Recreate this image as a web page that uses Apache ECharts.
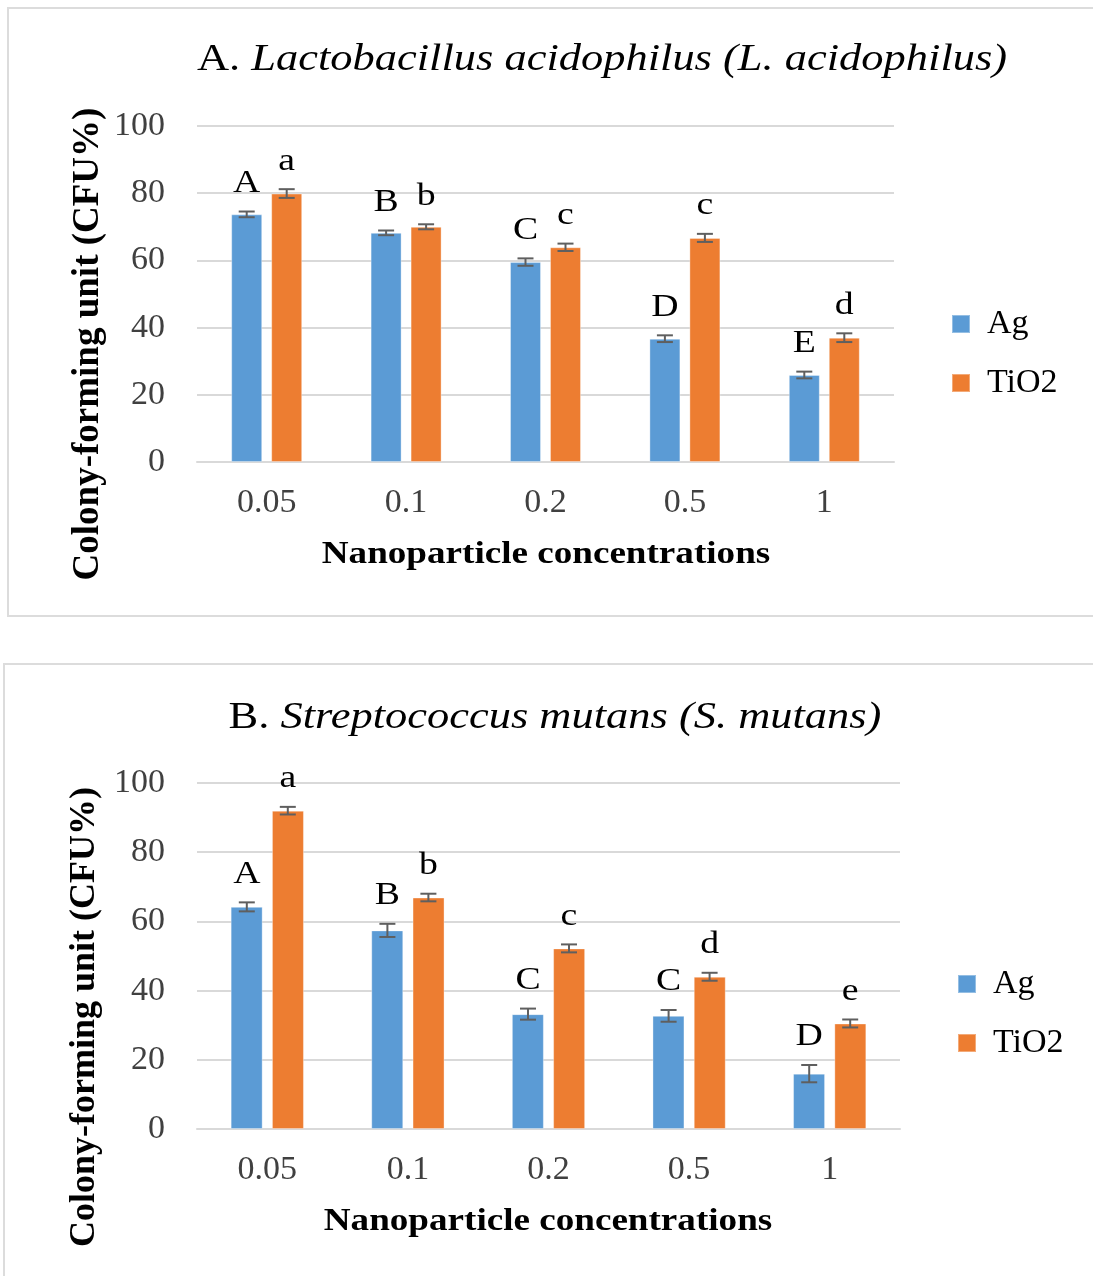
<!DOCTYPE html>
<html>
<head>
<meta charset="utf-8">
<script src="https://cdn.jsdelivr.net/npm/echarts@6/dist/echarts.min.js"></script>
<style>
  html, body { margin: 0; padding: 0; background: #fff; overflow: hidden; }
  #main { width: 1093px; height: 1276px; }
</style>
</head>
<body>
<div id="main"></div>
<script>
const categories = ['0.05', '0.1', '0.2', '0.5', '1']
const yTicks = [0, 20, 40, 60, 80, 100]

// panel A - L. acidophilus
const agA = [73.7, 68.2, 59.5, 36.7, 25.9]
const agAErr = [0.85, 0.7, 1.1, 1.0, 1.0]
const agALetters = ['A', 'B', 'C', 'D', 'E']
const tiA = [79.9, 70.0, 63.9, 66.7, 37.0]
const tiAErr = [1.3, 0.75, 1.1, 1.2, 1.3]
const tiALetters = ['a', 'b', 'c', 'c', 'd']

// panel B - S. mutans
const agB = [64.2, 57.4, 33.2, 32.7, 16.0]
const agBErr = [1.3, 1.9, 1.6, 1.7, 2.5]
const agBLetters = ['A', 'B', 'C', 'C', 'D']
const tiB = [92.0, 66.9, 52.2, 44.0, 30.5]
const tiBErr = [1.1, 1.1, 1.15, 1.15, 1.15]
const tiBLetters = ['a', 'b', 'c', 'd', 'e']

const SERIF = '"Liberation Serif", "Times New Roman", serif'
const BLUE = '#5B9BD5'
const ORANGE = '#ED7D31'
const GRID_COLOR = '#d9d9d9'

const chart = echarts.init(document.getElementById('main'))

// error bars + significance letters
function errSeries(idx, values, errs, letters, offset) {
  return {
    type: 'custom',
    xAxisIndex: idx,
    yAxisIndex: idx,
    silent: true,
    z: 5,
    data: values.map((v, i) => [i, v, errs[i]]),
    renderItem(params, api) {
      const i = api.value(0)
      const v = api.value(1)
      const e = api.value(2)
      const c = api.coord([i, v])
      const hi = api.coord([i, v + e])
      const lo = api.coord([i, v - e])
      const x = c[0] + offset
      const st = { stroke: '#5f5f5f', lineWidth: 2 }
      return {
        type: 'group',
        children: [
          { type: 'line', shape: { x1: x, y1: hi[1], x2: x, y2: lo[1] }, style: st },
          { type: 'line', shape: { x1: x - 8, y1: hi[1], x2: x + 8, y2: hi[1] }, style: st },
          { type: 'line', shape: { x1: x - 8, y1: lo[1], x2: x + 8, y2: lo[1] }, style: st },
          {
            type: 'text',
            x, y: hi[1] - 12,
            scaleX: 1.18,
            style: {
              text: letters[i],
              align: 'center', verticalAlign: 'bottom',
              font: '32px ' + SERIF, fill: '#000',
            },
          },
        ],
      }
    },
  }
}

function barSeries(idx, name, values, color, width) {
  return {
    name,
    type: 'bar',
    xAxisIndex: idx,
    yAxisIndex: idx,
    data: values,
    barWidth: width,
    barGap: '29%',
    itemStyle: { color, borderColor: 'rgba(255,255,255,0.35)', borderWidth: 1 },
  }
}

const xAxisBase = {
  type: 'category',
  data: categories,
  axisLine: { lineStyle: { color: GRID_COLOR, width: 2 } },
  axisTick: { show: false },
  axisLabel: { fontFamily: SERIF, fontSize: 34, color: '#404040', margin: 24 },
}
const yAxisBase = {
  type: 'value',
  min: yTicks[0],
  max: yTicks[yTicks.length - 1],
  interval: yTicks[1] - yTicks[0],
  axisLine: { show: false },
  axisTick: { show: false },
  splitLine: { lineStyle: { color: GRID_COLOR, width: 2 } },
  axisLabel: { fontFamily: SERIF, fontSize: 34, color: '#404040', margin: 32 },
}

const legendBase = {
  orient: 'vertical',
  icon: 'rect',
  itemWidth: 18,
  itemHeight: 18,
  itemGap: 25,
  textStyle: { fontFamily: SERIF, fontSize: 34, color: '#000', padding: [0, 0, 0, 12] },
  selectedMode: false,
}

function axisName(text, x, y, rotate, size, sx) {
  return {
    type: 'text',
    x, y,
    rotation: rotate ? Math.PI / 2 : 0,
    scaleX: sx,
    style: {
      text, align: 'center', verticalAlign: 'middle',
      font: `bold ${size}px ` + SERIF, fill: '#000',
    },
  }
}

function title(prefix, italic, x, y) {
  return {
    type: 'text',
    x, y,
    scaleX: 1.17,
    style: {
      text: `{n|${prefix}}{i|${italic}}`,
      align: 'center', verticalAlign: 'middle',
      rich: {
        n: { fontFamily: SERIF, fontSize: 38, fill: '#000' },
        i: { fontFamily: SERIF, fontSize: 38, fontStyle: 'italic', fill: '#000' },
      },
    },
  }
}

chart.setOption({
  animation: false,
  grid: [
    { left: 197, top: 126, width: 697, height: 336 },
    { left: 197, top: 783, width: 703, height: 346 },
  ],
  xAxis: [{ ...xAxisBase, gridIndex: 0 }, { ...xAxisBase, gridIndex: 1 }],
  yAxis: [{ ...yAxisBase, gridIndex: 0 }, { ...yAxisBase, gridIndex: 1 }],
  legend: [
    { ...legendBase, left: 946, top: 302, data: ['Ag', 'TiO2'] },
    { ...legendBase, left: 952, top: 962, data: ['Ag', 'TiO2'] },
  ],
  series: [
    barSeries(0, 'Ag', agA, BLUE, 31),
    barSeries(0, 'TiO2', tiA, ORANGE, 31),
    errSeries(0, agA, agAErr, agALetters, -20),
    errSeries(0, tiA, tiAErr, tiALetters, 20),
    barSeries(1, 'Ag', agB, BLUE, 32),
    barSeries(1, 'TiO2', tiB, ORANGE, 32),
    errSeries(1, agB, agBErr, agBLetters, -20.5),
    errSeries(1, tiB, tiBErr, tiBLetters, 20.5),
  ],
  graphic: [
    { type: 'rect', shape: { x: 8, y: 8, width: 1100, height: 608 }, style: { fill: 'none', stroke: '#dcdcdc', lineWidth: 2 } },
    { type: 'rect', shape: { x: 4, y: 664, width: 1100, height: 700 }, style: { fill: 'none', stroke: '#dcdcdc', lineWidth: 2 } },
    title('A. ', 'Lactobacillus acidophilus (L. acidophilus)', 602, 60),
    title('B. ', 'Streptococcus mutans (S. mutans)', 555, 718),
    axisName('Colony-forming unit (CFU%)', 88, 344, true, 37, 1),
    axisName('Nanoparticle concentrations', 546, 555, false, 32, 1.16),
    axisName('Colony-forming unit (CFU%)', 85, 1017, true, 36, 1),
    axisName('Nanoparticle concentrations', 548, 1222, false, 32, 1.16),
  ],
})
</script>
</body>
</html>
